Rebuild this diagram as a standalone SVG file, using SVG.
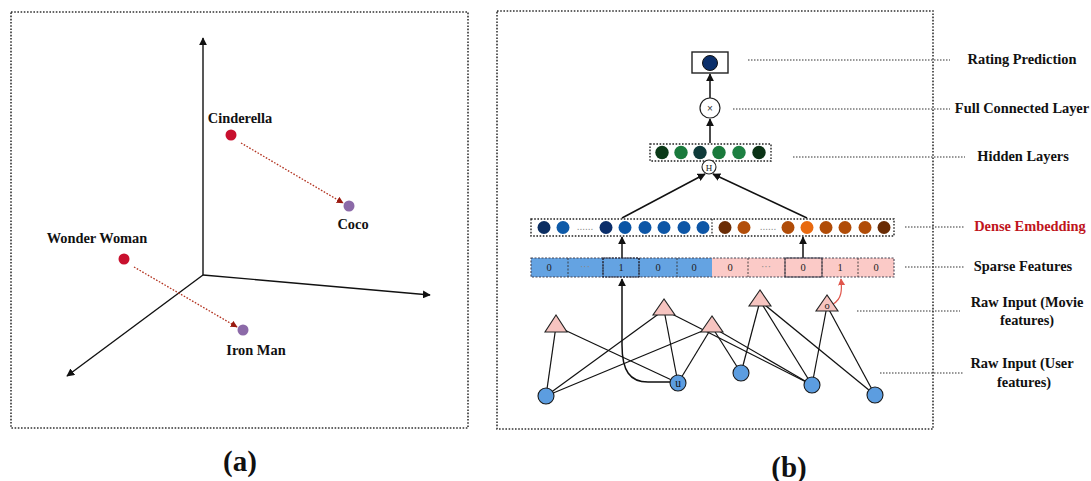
<svg xmlns="http://www.w3.org/2000/svg" width="1091" height="481" viewBox="0 0 1091 481">
<defs>
<marker id="ah" viewBox="0 0 10 10" refX="9" refY="5" markerWidth="8" markerHeight="8" markerUnits="userSpaceOnUse" orient="auto"><path d="M0,0 L10,5 L0,10 z" fill="#111"/></marker>
<marker id="ahr" viewBox="0 0 10 10" refX="9" refY="5" markerWidth="7" markerHeight="7" markerUnits="userSpaceOnUse" orient="auto"><path d="M0,0 L10,5 L0,10 z" fill="#9a1a10"/></marker>
<marker id="ahp" viewBox="0 0 10 10" refX="9" refY="5" markerWidth="7" markerHeight="7" markerUnits="userSpaceOnUse" orient="auto"><path d="M0,0 L10,5 L0,10 z" fill="#e0564c"/></marker>
</defs>
<style>
.frame{fill:none;stroke:#333;stroke-width:1.6;stroke-dasharray:1.6 1.6}
.lbl{font-family:"Liberation Serif","Times New Roman",serif;font-weight:bold;font-size:14.4px;fill:#111}
.cap{font-family:"Liberation Serif","Times New Roman",serif;font-weight:bold;font-size:29px;fill:#111}
.axis{stroke:#111;stroke-width:1.4;fill:none}
.darr{stroke:#b2321f;stroke-width:1.3;stroke-dasharray:1.6 1.6;fill:none}
.lead{stroke:#333;stroke-width:1.2;stroke-dasharray:1.5 1.5;fill:none}
.arr{stroke:#111;stroke-width:1.5;fill:none}
.edge{stroke:#111;stroke-width:1.2;fill:none}
.tri{fill:#f6c4c0;stroke:#222;stroke-width:1.1}
.uc{fill:#5c9de0;stroke:#1a1a1a;stroke-width:1.1}
.cell{font-family:"Liberation Serif","Times New Roman",serif;font-size:10.5px;fill:#222;text-anchor:middle}
.ell{font-family:"Liberation Sans",Arial,sans-serif;font-size:10px;fill:#8a8a8a;text-anchor:middle}
.box{fill:none;stroke:#222;stroke-width:1.4;stroke-dasharray:1.6 1.6}
.cb{stroke:#333;stroke-width:0.9;stroke-dasharray:2 1.5}
</style>
<rect width="1091" height="481" fill="#fff"/>

<!-- Panel (a) -->
<g id="panel-a">
<rect class="frame" x="11" y="12" width="457" height="416"/>
<g id="axes">
<line class="axis" x1="203" y1="275" x2="203" y2="38" marker-end="url(#ah)"/>
<line class="axis" x1="203" y1="275" x2="430" y2="295" marker-end="url(#ah)"/>
<line class="axis" x1="203" y1="275" x2="67" y2="376" marker-end="url(#ah)"/>
</g>
<g id="a-connectors">
<line class="darr" x1="241" y1="143" x2="343" y2="203" marker-end="url(#ahr)"/>
<line class="darr" x1="134" y1="267" x2="237" y2="327" marker-end="url(#ahr)"/>
</g>
<g id="cinderella"><circle cx="231" cy="135" r="5.5" fill="#c8102e"/><text class="lbl" x="240" y="123" text-anchor="middle">Cinderella</text></g>
<g id="coco"><circle cx="349" cy="206" r="5.5" fill="#8c6aa8"/><text class="lbl" x="353" y="229" text-anchor="middle">Coco</text></g>
<g id="wonder-woman"><circle cx="124" cy="259" r="5.5" fill="#c8102e"/><text class="lbl" x="97" y="243" text-anchor="middle">Wonder Woman</text></g>
<g id="iron-man"><circle cx="243" cy="330" r="5.5" fill="#8c6aa8"/><text class="lbl" x="256" y="355" text-anchor="middle">Iron Man</text></g>
<text class="cap" x="240" y="471" text-anchor="middle">(a)</text>
</g>

<!-- Panel (b) -->
<g id="panel-b">
<rect class="frame" x="497" y="11" width="436" height="418"/>

<g id="connectors">
<g id="raw-edges">
<line class="edge" x1="556" y1="326" x2="546" y2="396"/>
<line class="edge" x1="556" y1="326" x2="678" y2="383"/>
<line class="edge" x1="664" y1="310" x2="546" y2="396"/>
<line class="edge" x1="664" y1="310" x2="678" y2="383"/>
<line class="edge" x1="664" y1="310" x2="812" y2="385"/>
<line class="edge" x1="712" y1="327" x2="546" y2="396"/>
<line class="edge" x1="712" y1="327" x2="678" y2="383"/>
<line class="edge" x1="712" y1="327" x2="741" y2="373"/>
<line class="edge" x1="712" y1="327" x2="812" y2="385"/>
<line class="edge" x1="760" y1="301" x2="741" y2="373"/>
<line class="edge" x1="760" y1="301" x2="812" y2="385"/>
<line class="edge" x1="760" y1="301" x2="875" y2="395"/>
<line class="edge" x1="827" y1="306" x2="812" y2="385"/>
<line class="edge" x1="827" y1="306" x2="875" y2="395"/>
</g>
<path class="arr" d="M670 382 L648 382 C630 382 622 371 622 345 L622 279" stroke-width="1.3" marker-end="url(#ah)"/>
<path d="M833 304 C842 299 842 290 841 279" fill="none" stroke="#e0564c" stroke-width="1.2" marker-end="url(#ahp)"/>
<line class="arr" x1="622" y1="258" x2="622" y2="237" marker-end="url(#ah)"/>
<line class="arr" x1="803" y1="258" x2="803" y2="237" marker-end="url(#ah)"/>
<line class="arr" x1="622" y1="218" x2="705" y2="174" marker-end="url(#ah)"/>
<line class="arr" x1="807" y1="218" x2="713" y2="174" marker-end="url(#ah)"/>
<line class="arr" x1="710" y1="143" x2="710" y2="119" marker-end="url(#ah)"/>
<line class="arr" x1="710" y1="98" x2="710" y2="74" marker-end="url(#ah)"/>
<line class="lead" x1="748" y1="60" x2="950" y2="60"/>
<line class="lead" x1="733" y1="109" x2="950" y2="109"/>
<line class="lead" x1="793" y1="157" x2="965" y2="157"/>
<line class="lead" x1="905" y1="227" x2="965" y2="227"/>
<line class="lead" x1="905" y1="267" x2="965" y2="267"/>
<line class="lead" x1="857" y1="311" x2="960" y2="311"/>
<line class="lead" x1="880" y1="373" x2="963" y2="373"/>
</g>

<g id="rating-prediction">
<rect x="692" y="52" width="36" height="21" fill="#fff" stroke="#222" stroke-width="1.4"/>
<circle cx="710" cy="63" r="7.5" fill="#0b2f6b" stroke="#111" stroke-width="1"/>
</g>
<g id="full-connected">
<circle cx="710" cy="108" r="10" fill="#fff" stroke="#222" stroke-width="1.2"/>
<text x="710" y="111.5" font-family="Liberation Sans, Arial, sans-serif" font-size="10" fill="#333" text-anchor="middle">×</text>
</g>
<g id="hidden-layers">
<rect class="box" x="650" y="144" width="121" height="17"/>
<circle cx="662" cy="152.5" r="6.7" fill="#0b3a18"/>
<circle cx="681" cy="152.5" r="6.7" fill="#1a7a3c"/>
<circle cx="700" cy="152.5" r="6.7" fill="#0f3b3a"/>
<circle cx="719" cy="152.5" r="6.7" fill="#1a7a3c"/>
<circle cx="739" cy="152.5" r="6.7" fill="#1d8042"/>
<circle cx="759" cy="152.5" r="6.7" fill="#0b3316"/>
</g>
<g id="h-node">
<circle cx="709" cy="167" r="7" fill="#fff" stroke="#222" stroke-width="1.1"/>
<text x="709" y="170.5" font-family="Liberation Serif, serif" font-size="9" fill="#222" text-anchor="middle">H</text>
</g>
<g id="dense-embedding">
<rect class="box" x="531" y="219" width="363" height="17"/>
<line x1="712" y1="219" x2="712" y2="236" stroke="#222" stroke-width="1.2" stroke-dasharray="1.6 1.6"/>
<circle cx="544" cy="227.5" r="6.5" fill="#0b2e62"/>
<circle cx="563" cy="227.5" r="6.5" fill="#0e5aa8"/>
<text class="ell" x="585" y="230">......</text>
<circle cx="606" cy="227.5" r="6.5" fill="#0b2e6a"/>
<circle cx="625" cy="227.5" r="6.5" fill="#0b55a5"/>
<circle cx="645" cy="227.5" r="6.5" fill="#0d56a6"/>
<circle cx="664" cy="227.5" r="6.5" fill="#0d56a6"/>
<circle cx="684" cy="227.5" r="6.5" fill="#0d56a6"/>
<circle cx="703" cy="227.5" r="6.5" fill="#0d56a6"/>
<circle cx="725" cy="227.5" r="6.5" fill="#6b2d06"/>
<circle cx="744" cy="227.5" r="6.5" fill="#b24e0a"/>
<text class="ell" x="768" y="230">......</text>
<circle cx="788" cy="227.5" r="6.5" fill="#b04c08"/>
<circle cx="807" cy="227.5" r="6.5" fill="#e8690f"/>
<circle cx="826" cy="227.5" r="6.5" fill="#b04c08"/>
<circle cx="845" cy="227.5" r="6.5" fill="#b04c08"/>
<circle cx="865" cy="227.5" r="6.5" fill="#b04c08"/>
<circle cx="884" cy="227.5" r="6.5" fill="#6a2c05"/>
</g>
<g id="sparse-features">
<rect x="531" y="258" width="181" height="19" fill="#64a3e2"/>
<rect x="712" y="258" width="182" height="19" fill="#fbcac7"/>
<line class="cb" x1="568" y1="258" x2="568" y2="277"/>
<line class="cb" x1="603" y1="258" x2="603" y2="277"/>
<line class="cb" x1="639" y1="258" x2="639" y2="277"/>
<line class="cb" x1="677" y1="258" x2="677" y2="277"/>
<line class="cb" x1="748" y1="258" x2="748" y2="277"/>
<line class="cb" x1="785" y1="258" x2="785" y2="277"/>
<line class="cb" x1="822" y1="258" x2="822" y2="277"/>
<line class="cb" x1="858" y1="258" x2="858" y2="277"/>
<rect x="531" y="258" width="363" height="19" fill="none" stroke="#445" stroke-width="1.1" stroke-dasharray="2 1.5"/>
<rect x="603" y="258" width="36" height="19" fill="none" stroke="#223" stroke-width="1.1" stroke-dasharray="2 1"/>
<rect x="785" y="258" width="37" height="19" fill="none" stroke="#334" stroke-width="0.9"/>
<text class="cell" x="549" y="271">0</text>
<text class="ell" x="585" y="270">···</text>
<text class="cell" x="621" y="271">1</text>
<text class="cell" x="658" y="271">0</text>
<text class="cell" x="694" y="271">0</text>
<text class="cell" x="730" y="271">0</text>
<text class="ell" x="766" y="270">···</text>
<text class="cell" x="803" y="271">0</text>
<text class="cell" x="840" y="271">1</text>
<text class="cell" x="876" y="271">0</text>
</g>
<g id="movie-features">
<polygon class="tri" points="556,315 545,332 567,332"/>
<polygon class="tri" points="664,299 653,315 675,315"/>
<polygon class="tri" points="712,316 701,332 723,332"/>
<polygon class="tri" points="760,290 749,306 771,306"/>
<polygon class="tri" points="827,295 816,311 838,311"/>
<text x="827" y="309" font-family="Liberation Serif, serif" font-size="10.5" fill="#222" text-anchor="middle">o</text>
</g>
<g id="user-features">
<circle class="uc" cx="546" cy="396" r="8"/>
<circle class="uc" cx="678" cy="383" r="8"/>
<text x="678" y="387" font-family="Liberation Serif, serif" font-size="11.5" fill="#111" text-anchor="middle">u</text>
<circle class="uc" cx="741" cy="373" r="8"/>
<circle class="uc" cx="812" cy="385" r="8"/>
<circle class="uc" cx="875" cy="395" r="8"/>
</g>

<g id="labels">
<text class="lbl" x="1022" y="64" text-anchor="middle">Rating Prediction</text>
<text class="lbl" x="1022" y="113" text-anchor="middle">Full Connected Layer</text>
<text class="lbl" x="1023" y="161" text-anchor="middle">Hidden Layers</text>
<text class="lbl" x="1030" y="231" text-anchor="middle" style="fill:#c0141c">Dense Embedding</text>
<text class="lbl" x="1023" y="271" text-anchor="middle">Sparse Features</text>
<text class="lbl" x="1027" y="307" text-anchor="middle">Raw Input (Movie</text>
<text class="lbl" x="1027" y="325" text-anchor="middle">features)</text>
<text class="lbl" x="1022" y="368" text-anchor="middle">Raw Input (User</text>
<text class="lbl" x="1024" y="387" text-anchor="middle">features)</text>
</g>
<text class="cap" x="789" y="477" text-anchor="middle">(b)</text>
</g>
</svg>
